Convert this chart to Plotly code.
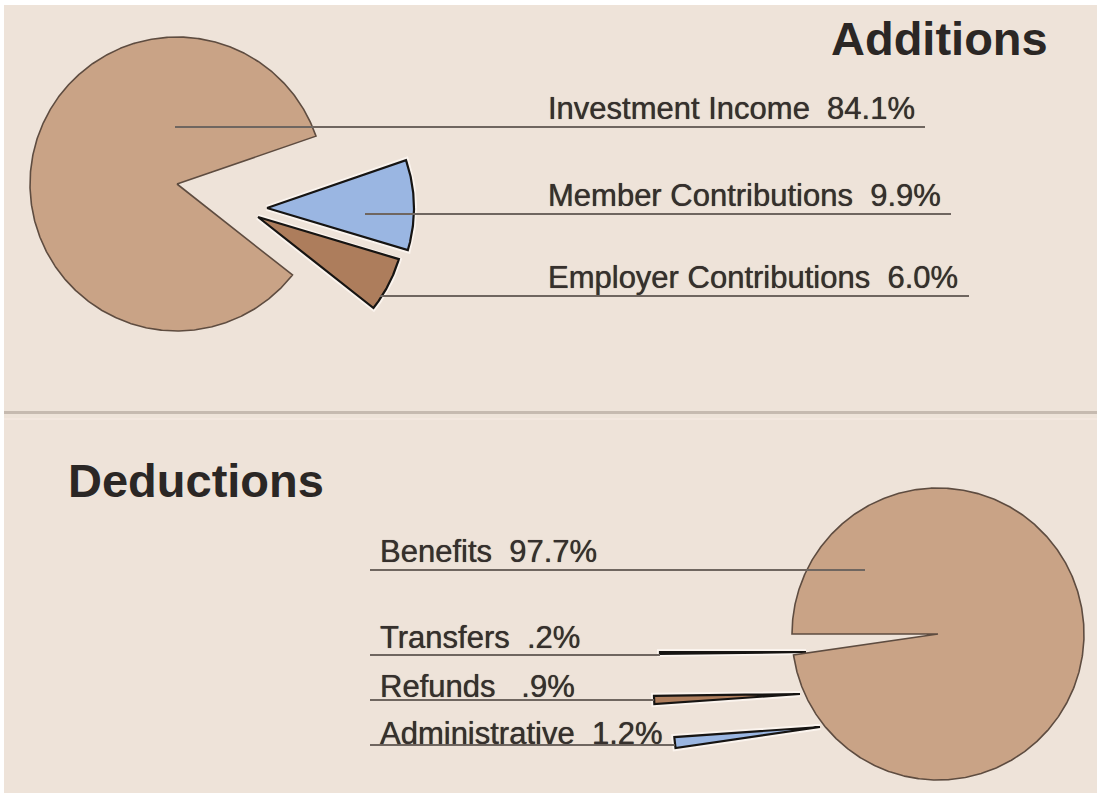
import numpy as np
import plotly.graph_objects as go

# ---------------- data ----------------
add_labels = ["Member Contributions", "Employer Contributions", "Investment Income"]
add_values = [9.9, 6.0, 84.1]
add_texts = ["Member Contributions  9.9%", "Employer Contributions  6.0%", "Investment Income  84.1%"]

ded_labels = ["Transfers", "Refunds", "Administrative", "Benefits"]
ded_values = [0.2, 0.9, 1.2, 97.7]
ded_texts = ["Transfers  .2%", "Refunds   .9%", "Administrative  1.2%", "Benefits  97.7%"]

# ---------------- style / layout ----------------
W, H = 1100, 793
BG = "#eee3d9"
TAN, BROWN, LBLUE, DBLUE = "#c9a386", "#ad7d5c", "#9ab6e2", "#6b98d2"
add_colors = [LBLUE, BROWN, TAN]
ded_colors = [DBLUE, BROWN, LBLUE, TAN]

ADD_CENTER, ADD_R, ADD_START = (177, 184), 147, 19.0     # clockwise from start angle
ADD_SHIFT = [(90, 24), (81, 33), (0, 0)]                  # exploded offsets (px)
DED_CENTER, DED_R, DED_START = (938, 634), 146, 180.0    # counter-clockwise from start angle
DED_SHIFT = [(-132, 18), (-138, 60), (-118, 93), (0, 0)]

FAMILY = "Liberation Sans, Arial, Helvetica, sans-serif"
TEXT_FONT = dict(family=FAMILY, size=31, color="#36302d", shadow="0px 0px 0.7px #36302d")
TITLE_FONT = dict(family=FAMILY, size=47, color="#2b2725")
LEADER = dict(color="#6f6660", width=2.2)


def wedge(cx, cy, r, a0, a1):
    """Polygon for a pie slice between angles a0..a1 (degrees, y axis pointing down)."""
    n = max(int(abs(a1 - a0) / 0.5) + 2, 3)
    t = np.radians(np.linspace(a0, a1, n))
    xs = np.concatenate([[cx], cx + r * np.cos(t), [cx]])
    ys = np.concatenate([[cy], cy - r * np.sin(t), [cy]])
    return xs, ys


def slice_angles(values, start, sign):
    total = float(sum(values))
    out, acc = [], start
    for v in values:
        span = sign * 360.0 * v / total
        out.append((acc, acc + span))
        acc += span
    return out


fig = go.Figure()


def add_pie(labels, values, colors, center, r, start, sign, shifts):
    angs = slice_angles(values, start, sign)
    geo = []
    for lab, v, col, (a0, a1), (dx, dy) in zip(labels, values, colors, angs, shifts):
        cx, cy = center[0] + dx, center[1] + dy
        xs, ys = wedge(cx, cy, r, a0, a1)
        exploded = (dx, dy) != (0, 0)
        if exploded:
            # pale halo that separates exploded slices from their neighbours
            fig.add_trace(go.Scatter(x=xs, y=ys, mode="lines", fill="toself",
                                     fillcolor=col, line=dict(color="#fbf4ee", width=6),
                                     hoverinfo="skip", showlegend=False))
        fig.add_trace(go.Scatter(
            x=xs, y=ys, mode="lines", fill="toself", fillcolor=col,
            line=dict(color="#161412" if exploded else "#5e4c40", width=2.2 if exploded else 1.6),
            name=lab, text=f"{lab}: {v}%", hoverinfo="text", showlegend=False))
        mid = np.radians((a0 + a1) / 2)
        geo.append((cx + r * np.cos(mid), cy - r * np.sin(mid)))
    return geo


add_geo = add_pie(add_labels, add_values, add_colors, ADD_CENTER, ADD_R, ADD_START, -1, ADD_SHIFT)
ded_geo = add_pie(ded_labels, ded_values, ded_colors, DED_CENTER, DED_R, DED_START, +1, DED_SHIFT)

shapes = [
    dict(type="rect", xref="x", yref="y", x0=4, x1=1097, y0=5, y1=H,
         fillcolor=BG, line=dict(width=0), layer="below"),
    dict(type="line", xref="x", yref="y", x0=4, x1=1097, y0=412.5, y1=412.5,
         line=dict(color="#c6bab0", width=3)),
    dict(type="line", xref="x", yref="y", x0=4, x1=1097, y0=419, y1=419,
         line=dict(color="#f5e9e0", width=1.5)),
]

annotations = []

# Additions labels: (text x, text y, line y, line x0, line x1)
add_label_pos = {
    "Investment Income": (546, 108, 127, 175, 925),
    "Member Contributions": (546, 195, 214, 365, 951),
    "Employer Contributions": (546, 277, 296, 380, 969),
}
for lab, txt in zip(add_labels, add_texts):
    tx, ty, ly, lx0, lx1 = add_label_pos[lab]
    annotations.append(dict(x=tx, y=ty, xref="x", yref="y", text=txt, showarrow=False,
                            xanchor="left", yanchor="middle", font=TEXT_FONT))
    shapes.append(dict(type="line", xref="x", yref="y", x0=lx0, x1=lx1, y0=ly, y1=ly, line=LEADER))

# Deductions labels: (text x, text y, line y); line runs from the text to the slice
ded_label_pos = {
    "Benefits": (378, 551, 570),
    "Transfers": (378, 637, 655),
    "Refunds": (378, 686, 700),
    "Administrative": (378, 733, 745),
}
for lab, txt, (ex, ey) in zip(ded_labels, ded_texts, ded_geo):
    tx, ty, ly = ded_label_pos[lab]
    annotations.append(dict(x=tx, y=ty, xref="x", yref="y", text=txt, showarrow=False,
                            xanchor="left", yanchor="middle", font=TEXT_FONT))
    x_end = 865 if lab == "Benefits" else ex
    shapes.append(dict(type="line", xref="x", yref="y", x0=370, x1=x_end, y0=ly, y1=ly, line=LEADER))

annotations.append(dict(x=1050, y=38, xref="x", yref="y", text="<b>Additions</b>", showarrow=False,
                        xanchor="right", yanchor="middle", font=TITLE_FONT))
annotations.append(dict(x=66, y=480, xref="x", yref="y", text="<b>Deductions</b>", showarrow=False,
                        xanchor="left", yanchor="middle", font=TITLE_FONT))

fig.update_layout(
    width=W, height=H, margin=dict(l=0, r=0, t=0, b=0),
    paper_bgcolor="white", plot_bgcolor="rgba(0,0,0,0)",
    xaxis=dict(range=[0, W], visible=False, fixedrange=True),
    yaxis=dict(range=[H, 0], visible=False, fixedrange=True),
    shapes=shapes, annotations=annotations,
)

fig.write_html("out.html")
